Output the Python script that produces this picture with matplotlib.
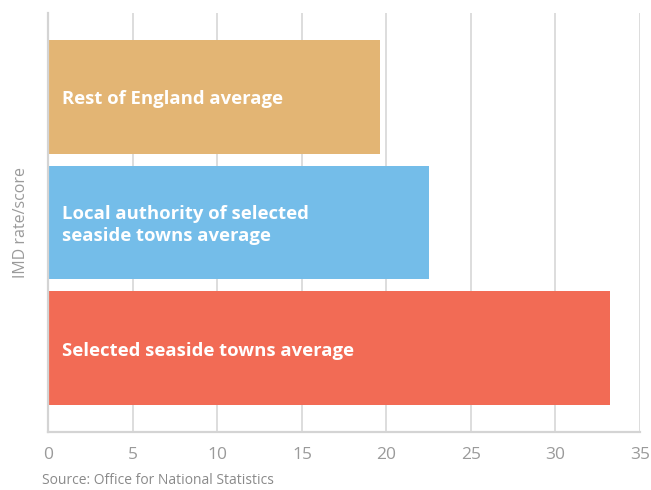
import matplotlib
matplotlib.use('Agg')
from matplotlib import pyplot as plt

# Data
labels = ['Rest of England average',
          'Local authority of selected\nseaside towns average',
          'Selected seaside towns average']
values = [19.6, 22.5, 33.2]
colors = ['#e3b574', '#74bde9', '#f26b55']
xticks = [0, 5, 10, 15, 20, 25, 30, 35]

plt.rcParams['font.family'] = ['Open Sans', 'DejaVu Sans']

fig = plt.figure(figsize=(6.51, 4.90), dpi=100)
ax = fig.add_axes([0.0745, 0.1184, 0.9085, 0.8551])

pos = list(range(len(values)))
ax.barh(pos, values, height=0.905, color=colors, zorder=2)

# Labels inside the bars
for p, text in zip(pos, labels):
    ax.text(0.8, p + 0.02, text, color='white', fontsize=13.3, fontweight='bold',
            va='center', ha='left', linespacing=1.35, zorder=3)

ax.set_xlim(0, 35)
ax.set_ylim(2.667, -0.667)
ax.set_xticks(xticks)
ax.set_yticks([])
ax.xaxis.grid(True, color='#dadada', linewidth=1.3, zorder=0)
ax.tick_params(axis='x', length=0, pad=11, labelsize=12.5, labelcolor='#9a9a9a')

for side in ['top', 'right']:
    ax.spines[side].set_visible(False)
for side in ['left', 'bottom']:
    ax.spines[side].set_color('#d4d4d4')
    ax.spines[side].set_linewidth(1.6)

ax.set_ylabel('IMD rate/score', fontsize=11.5, color='#9a9a9a', labelpad=14)

fig.text(0.065, 0.004, 'Source: Office for National Statistics',
         fontsize=10, color='#8a8a8a', ha='left', va='bottom')

fig.savefig('out.png', dpi=100)
